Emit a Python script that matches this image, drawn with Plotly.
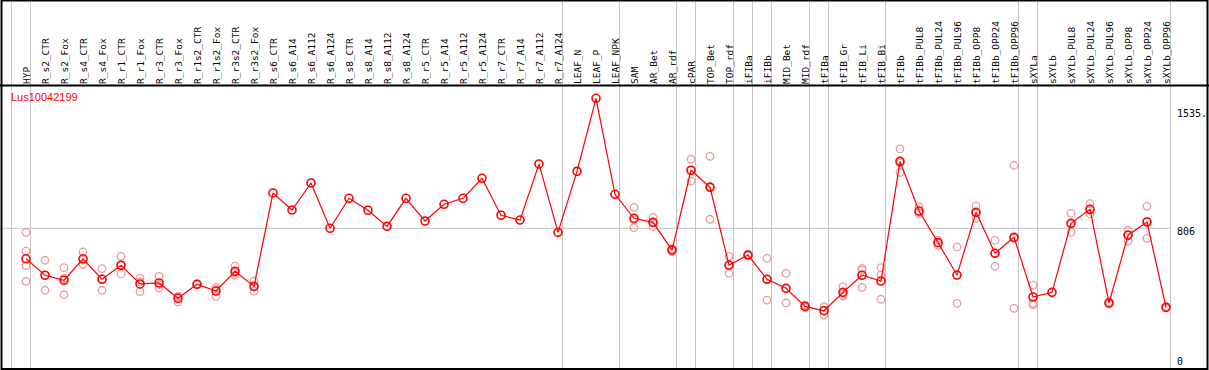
import plotly.graph_objects as go

categories = ["HYP", "R_s2_CTR", "R_s2_Fox", "R_s4_CTR", "R_s4_Fox", "R_r1_CTR", "R_r1_Fox",
              "R_r3_CTR", "R_r3_Fox", "R_r1s2_CTR", "R_r1s2_Fox", "R_r3s2_CTR", "R_r3s2_Fox",
              "R_s6_CTR", "R_s6_A14", "R_s6_A112", "R_s6_A124", "R_s8_CTR", "R_s8_A14",
              "R_s8_A112", "R_s8_A124", "R_r5_CTR", "R_r5_A14", "R_r5_A112", "R_r5_A124",
              "R_r7_CTR", "R_r7_A14", "R_r7_A112", "R_r7_A124", "LEAF_N", "LEAF_P", "LEAF_NPK",
              "SAM", "AR_Bet", "AR_rdf", "cPAR", "TOP_Bet", "TOP_rdf", "iFIBa", "iFIBb",
              "MID_Bet", "MID_rdf", "tFIBa", "tFIB_Gr", "tFIB_Li", "tFIB_Bi", "tFIBb",
              "tFIBb_PUL8", "tFIBb_PUL24", "tFIBb_PUL96", "tFIBb_OPP8", "tFIBb_OPP24",
              "tFIBb_OPP96", "sXYLa", "sXYLb", "sXYLb_PUL8", "sXYLb_PUL24", "sXYLb_PUL96",
              "sXYLb_OPP8", "sXYLb_OPP24", "sXYLb_OPP96"]

mean_values = [617, 515, 484, 617, 490, 577, 461, 467, 372, 459, 417, 539, 446,
               1025, 919, 1087, 806, 992, 918, 818, 992, 851, 955, 992, 1116,
               887, 857, 1205, 781, 1159, 1612, 1017,
               868, 843, 671, 1166, 1060, 578, 640, 490, 434, 322, 295, 409, 515, 479, 1221,
               913, 717, 516, 905, 651, 750, 380, 409, 837, 924, 343, 763, 845, 316]

replicates = [[781, 665, 574, 477], [608, 515, 422], [562, 496, 394], [659, 610, 583],
              [556, 492, 422], [632, 577, 523], [496, 474, 413], [508, 457, 436],
              [384, 383, 349], [462, 459, 456], [440, 427, 384], [572, 530, 515],
              [479, 442, 417],
              [], [], [], [], [], [], [], [], [], [], [], [], [], [], [], [],
              [], [], [],
              [936, 858, 810], [874, 841, 814], [680, 671, 662], [1234, 1166, 1099],
              [1252, 1066, 862], [632, 575, 527], [645, 640, 635], [620, 490, 361],
              [527, 432, 343], [330, 322, 314], [320, 297, 268], [444, 397, 386],
              [547, 558, 440], [562, 516, 366], [1298, 1212, 1153],
              [940, 904, 895], [733, 717, 700], [690, 516, 341], [944, 903, 868],
              [731, 652, 570], [1197, 743, 310], [454, 341, 331], [],
              [899, 831, 781], [959, 918, 895], [350, 343, 336], [794, 768, 727],
              [942, 849, 744], [320, 316, 312]]

group_ends = [-1, 0, 28, 31, 34, 35, 37, 38, 39, 41, 42, 45, 52, 53, 60]
axis_labels = ["1535.", "806", "0"]
axis_values = [1535, 806, 0]
title = "Lus10042199"

# ---- layout geometry (pixels) ----
W, H = 1209, 370
ML, MR, MT, MB = 1, 2, 85, 1
PW, PH = W - ML - MR, H - MT - MB
STEP = 19.0
X0 = -25.0 / STEP
X1 = X0 + PW / STEP
UNIT = 6.2
Y1 = (358.3 - MT) * UNIT
Y0 = Y1 - PH * UNIT


def px_x(px):
    return (px - ML) / PW


def px_y(py):
    return 1 - (py - MT) / PH


def data_x(v):
    return (v - X0) / (X1 - X0)


rep_x, rep_y = [], []
for i, reps in enumerate(replicates):
    for r in reps:
        rep_x.append(i)
        rep_y.append(r)

fig = go.Figure()
fig.add_trace(go.Scatter(
    x=rep_x, y=rep_y, mode="markers",
    marker=dict(symbol="circle-open", size=7.5, color="#f09a9a", line=dict(width=1.3, color="#f09a9a")),
    showlegend=False, hoverinfo="skip"))
fig.add_trace(go.Scatter(
    x=list(range(len(categories))), y=mean_values, mode="lines+markers",
    line=dict(color="#ff0000", width=1.2),
    marker=dict(symbol="circle-open", size=8, color="#ff0000", line=dict(width=1.6, color="#ff0000")),
    showlegend=False))

shapes = []
grey = "#c4c4c4"
for k in group_ends:
    xp = data_x(k + 4.5 / STEP)
    shapes.append(dict(type="line", xref="paper", yref="paper", x0=xp, x1=xp,
                       y0=px_y(H), y1=px_y(0), line=dict(color=grey, width=1), layer="below"))
shapes.append(dict(type="line", xref="paper", yref="y", x0=px_x(0), x1=data_x(group_ends[-1] + 4.5 / STEP),
                   y0=806, y1=806, line=dict(color=grey, width=1), layer="below"))
# separator line under labels and outer frame
shapes.append(dict(type="line", xref="paper", yref="paper", x0=px_x(0), x1=px_x(W),
                   y0=px_y(85.5), y1=px_y(85.5), line=dict(color="black", width=2)))
shapes.append(dict(type="rect", xref="paper", yref="paper", x0=px_x(1.5), x1=px_x(1207.5),
                   y0=px_y(369), y1=px_y(0.5), line=dict(color="black", width=2)))

annotations = [dict(text=title, xref="paper", yref="paper", x=px_x(9), y=px_y(97),
                    xanchor="left", yanchor="middle", showarrow=False,
                    font=dict(family="Liberation Sans", size=11, color="#ff0000"))]
for lab, v in zip(axis_labels, axis_values):
    annotations.append(dict(text=lab, xref="paper", yref="y", x=px_x(1175), y=v, yshift=-3,
                            xanchor="left", yanchor="middle", showarrow=False,
                            font=dict(family="DejaVu Sans Mono", size=10, color="black")))

fig.update_layout(
    width=W, height=H, margin=dict(l=ML, r=MR, t=MT, b=MB, pad=0),
    paper_bgcolor="white", plot_bgcolor="white",
    xaxis=dict(range=[X0, X1], side="top", tickmode="array",
               tickvals=list(range(len(categories))), ticktext=categories,
               tickangle=-90, ticks="", showgrid=False, zeroline=False, showline=False,
               ticklabelshift=1,
               tickfont=dict(family="DejaVu Sans Mono", size=9.5, color="black")),
    yaxis=dict(range=[Y0, Y1], showgrid=False, zeroline=False, showticklabels=False, showline=False),
    shapes=shapes, annotations=annotations,
)

fig.write_html("out.html", config={"displayModeBar": False},
               post_script="document.body.style.margin='0px';document.body.style.overflow='hidden';")
